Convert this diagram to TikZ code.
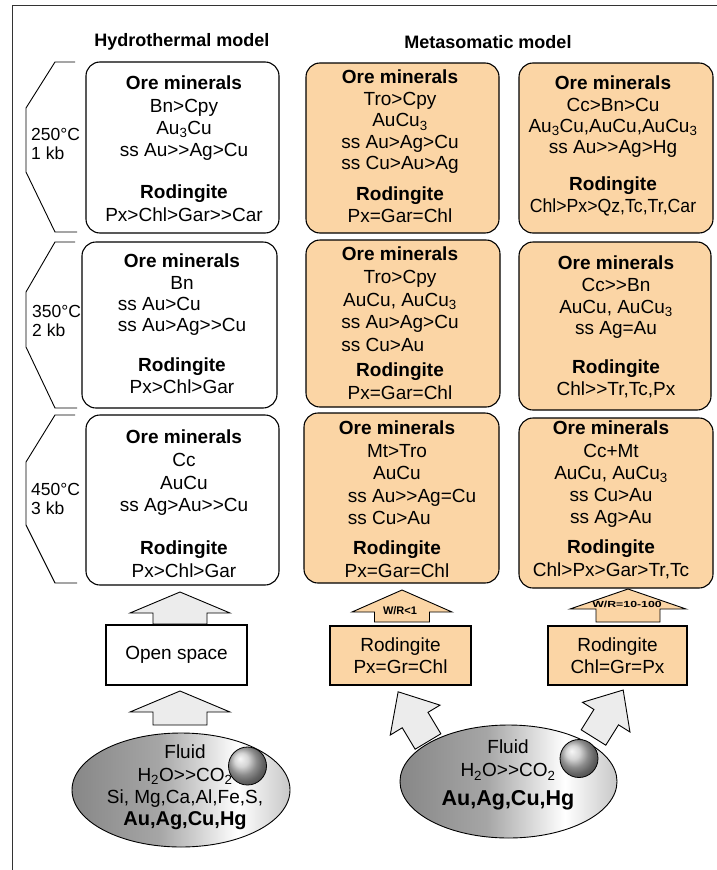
\documentclass[tikz,border=0pt]{standalone}
\usepackage{fontspec}
\setmainfont{Liberation Sans}[Ligatures=TeXOff]
\usetikzlibrary{shapes.geometric}
\definecolor{peach}{RGB}{251,213,165}
\definecolor{lgray}{RGB}{236,236,236}
\pgfdeclarehorizontalshading{fluidshade}{100bp}{color(0bp)=(black!47); color(25bp)=(black!47); color(45bp)=(black!35); color(63bp)=(white); color(75bp)=(black!22); color(100bp)=(black!22)}
\newcommand\blockarr[8]{%
  \begin{scope}[shift={(#1,#2)},rotate=#3]
    \draw[barrow,fill=#8] ({-#7},0) -- ({-#7},{-(#4-#5)}) -- ({-#6},{-(#4-#5)}) -- (0,{-#4}) -- ({#6},{-(#4-#5)}) -- ({#7},{-(#4-#5)}) -- ({#7},0) -- cycle;
  \end{scope}}
\tikzset{
  tbox/.style={draw=black, line width=1.1pt, rounded corners=14pt, inner sep=0pt},
  wbox/.style={tbox, fill=white},
  obox/.style={tbox, fill=peach},
  sqbox/.style={draw=black, line width=1.1pt, inner sep=0pt, align=center, font=\fontsize{19}{22}\selectfont},
  txt/.style={align=center, inner sep=0pt, anchor=north, font=\fontsize{19}{#1}\selectfont},
  txt/.default=22,
  hdr/.style={inner sep=0pt, font=\fontsize{18}{20}\selectfont\bfseries},
  tlab/.style={align=left, anchor=north west, inner sep=0pt, font=\fontsize{17.5}{19}\selectfont},
  brk/.style={draw=black, line width=0.9pt},
  barrow/.style={draw=black, line width=0.9pt, line join=miter},
  wr/.style={inner sep=0pt, font=\fontsize{11}{12}\selectfont\bfseries},
  fluid/.style={ellipse, draw=black, line width=0.9pt, shade, shading=fluidshade, inner sep=0pt},
  sphere/.style={circle, draw=black, line width=0.8pt, ball color=black!22, inner sep=0pt, minimum size=38pt}
}
\begin{document}
\begin{tikzpicture}[x=1pt,y=-1pt]
\useasboundingbox (0,0) rectangle (717,870);
\fill[white] (0,0) rectangle (717,870);
% frame
\draw[line width=1.4pt, black!80] (12.7,880) -- (12.7,5.5) -- (730,5.5);
% headers
\node[hdr] (h1) at (182,42) {Hydrothermal model};
\node[hdr] (h2) at (488,42) {Metasomatic model};
% brackets
\draw[brk] (75,62) -- (55,62) -- (26,108) -- (26,172) -- (55,232) -- (77,232);
\draw[brk] (75,242) -- (55,242) -- (26,292) -- (26,347) -- (55,408) -- (77,408);
\draw[brk] (75,415) -- (55,415) -- (26,462) -- (26,525) -- (55,583) -- (77,583);
% temperature labels
\node[tlab] (p1) at (31,128.5) {250°C\\1 kb};
\node[tlab] (p2) at (32,305.5) {350°C\\2 kb};
\node[tlab] (p3) at (31,483.5) {450°C\\3 kb};
% boxes
\node[wbox, minimum width=193pt, minimum height=171pt] (b11) at (182.5,147.5) {};
\node[wbox, minimum width=195pt, minimum height=166pt] (b21) at (179.5,325) {};
\node[wbox, minimum width=193pt, minimum height=170pt] (b31) at (182.5,500) {};
\node[obox, minimum width=193pt, minimum height=170pt] (b12) at (402.5,148) {};
\node[obox, minimum width=194pt, minimum height=167pt] (b22) at (403,323.5) {};
\node[obox, minimum width=195pt, minimum height=170pt] (b32) at (401.5,498) {};
\node[obox, minimum width=194pt, minimum height=170pt] (b13) at (616,148) {};
\node[obox, minimum width=192pt, minimum height=168pt] (b23) at (615,326) {};
\node[obox, minimum width=194pt, minimum height=170pt] (b33) at (616,503) {};
% box texts
\node[txt=22.3] (t11) at (184,75.8) {\textbf{Ore minerals}\\Bn>Cpy\\Au\textsubscript{3}Cu\\ss Au>>Ag>Cu\\[19.8pt]\textbf{Rodingite}\\Px>Chl>Gar>>Car};
\node[txt=21.3] (t21) at (182,253.8) {\textbf{Ore minerals}\\Bn\\ss Au>Cu\hphantom{>Ag>}\\ss Au>Ag>>Cu\\[18.8pt]\textbf{Rodingite}\\Px>Chl>Gar};
\node[txt=22.7] (t31) at (184,429.8) {\textbf{Ore minerals}\\Cc\\AuCu\\ss Ag>Au>>Cu\\[20.2pt]\textbf{Rodingite}\\Px>Chl>Gar};
\node[txt=21.5] (t12) at (400,69.8) {\textbf{Ore minerals}\\Tro>Cpy\\AuCu\textsubscript{3}\\ss Au>Ag>Cu\\ss Cu>Au>Ag\\[9.5pt]\textbf{Rodingite}\\Px=Gar=Chl};
\node[txt=22.7] (t22) at (400,246.8) {\textbf{Ore minerals}\\Tro>Cpy\\AuCu, AuCu\textsubscript{3}\\ss Au>Ag>Cu\\ss Cu>Au\hphantom{>Ag}\\[2.5pt]\textbf{Rodingite}\\Px=Gar=Chl};
\node[txt=22.5] (t32) at (397,420.8) {\textbf{Ore minerals}\\Mt>Tro\\AuCu\\\hspace*{30pt}ss Au>>Ag=Cu\\\hspace*{30pt}ss Cu>Au\hphantom{>Ag=}\\[7.5pt]\textbf{Rodingite}\\Px=Gar=Chl};
\node[txt=21.3] (t13) at (613,75.8) {\textbf{Ore minerals}\\Cc>Bn>Cu\\Au\textsubscript{3}Cu,AuCu,AuCu\textsubscript{3}\\ss Au>>Ag>Hg\\[15.8pt]\textbf{Rodingite}\\\scalebox{0.93}[1]{Chl>Px>Qz,Tc,Tr,Car}};
\node[txt=21.7] (t23) at (616,255.8) {\textbf{Ore minerals}\\Cc>>Bn\\AuCu, AuCu\textsubscript{3}\\ss Ag=Au\\[17.2pt]\textbf{Rodingite}\\Chl>>Tr,Tc,Px};
\node[txt=22.3] (t33) at (611,420.8) {\textbf{Ore minerals}\\Cc+Mt\\AuCu, AuCu\textsubscript{3}\\ss Cu>Au\\ss Ag>Au\\[7.5pt]\textbf{Rodingite}\\Chl>Px>Gar>Tr,Tc};
% up arrows
\blockarr{180}{624}{0}{32}{21}{50}{27}{lgray}
\blockarr{180}{725}{0}{34}{21}{50}{27}{lgray}
\blockarr{402}{622}{0}{32}{22}{50}{27.5}{peach}
\blockarr{628}{622}{0}{33}{20}{58}{32}{peach}
\node[wr] (wr1) at (400,611) {W/R<1};
\node[wr] (wr2) at (627,604.5) {\scalebox{1.12}[0.8]{W/R=10-100}};
% middle boxes
\node[sqbox, fill=white, minimum width=141pt, minimum height=60pt] (open) at (176.5,655) {Open space};
\node[sqbox, fill=peach, minimum width=141pt, minimum height=59pt] (rb2) at (400.5,655.5) {Rodingite\\Px=Gr=Chl};
\node[sqbox, fill=peach, minimum width=139pt, minimum height=59pt] (rb3) at (617.5,655.5) {Rodingite\\Chl=Gr=Px};
% slanted arrows
\blockarr{428}{741.5}{31}{58}{33}{29}{15}{lgray}
\blockarr{593.5}{737.5}{-32}{56}{32}{28}{14.5}{lgray}
% fluids
\node[fluid, minimum width=218pt, minimum height=114pt] (e1) at (181,790) {};
\node[sphere] (s1) at (247.5,766) {};
\node[txt=22.3] (f1) at (185,744.8) {Fluid\\H\textsubscript{2}O>>CO\textsubscript{2}\\Si, Mg,Ca,Al,Fe,S,\\{\fontsize{20}{22}\selectfont\bfseries Au,Ag,Cu,Hg}};
\node[fluid, minimum width=217pt, minimum height=113pt] (e2) at (508.5,781.5) {};
\node[sphere] (s2) at (579,758.5) {};
\node[txt=23] (f2) at (508,739.8) {Fluid\\H\textsubscript{2}O>>CO\textsubscript{2}\\[6pt]{\fontsize{21.5}{23}\selectfont\bfseries Au,Ag,Cu,Hg}};
\end{tikzpicture}
\end{document}
